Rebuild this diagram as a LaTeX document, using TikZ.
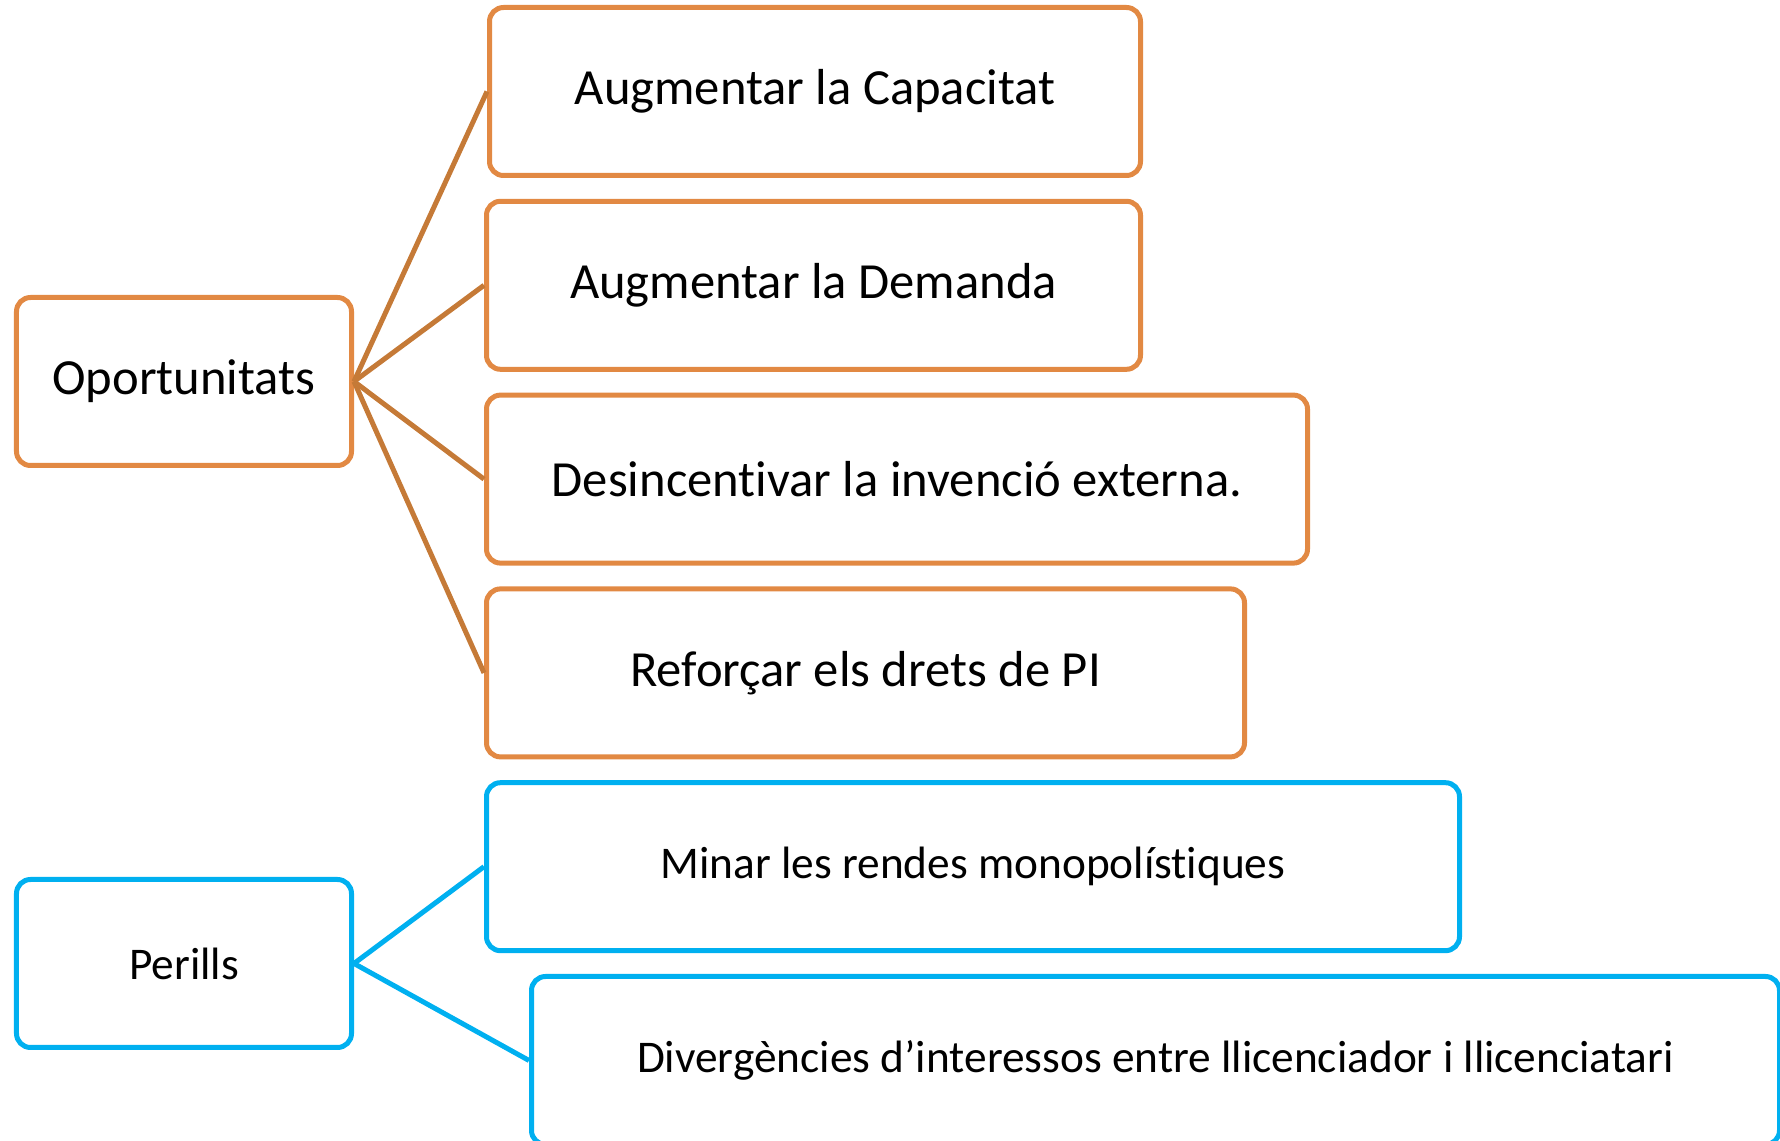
\documentclass[tikz,border=0pt]{standalone}
\usepackage{fontspec}
\setmainfont{Carlito}[Ligatures=NoCommon]
\usepackage{xcolor}
\usepackage{tikz}
\usetikzlibrary{positioning}

\definecolor{oranbox}{RGB}{226,137,67}
\definecolor{oranline}{RGB}{197,122,55}
\definecolor{skyline}{RGB}{0,176,240}

\begin{document}
\begin{tikzpicture}[
    node distance=0.208cm,
    every node/.style={align=center},
    oppbox/.style={draw=oranbox, line width=0.05cm, rounded corners=0.14cm,
        minimum height=1.68cm, font=\fontsize{14.4}{17}\selectfont},
    riskbox/.style={draw=skyline, line width=0.05cm, rounded corners=0.14cm,
        minimum height=1.68cm, font=\fontsize{12.9}{15}\selectfont},
    opplink/.style={draw=oranline, line width=0.05cm},
    risklink/.style={draw=skyline, line width=0.05cm}
]
\useasboundingbox (0,0) rectangle (17.8,-11.41);

% Opportunities
\node[
    oppbox,
    minimum width=3.35cm
] (opor) at (1.84,-3.815) {Oportunitats};

\node[
    oppbox,
    minimum width=6.51cm,
    anchor=north west
] (capac) at (4.87,-0.05) {Augmentar la Capacitat};

\node[
    oppbox,
    minimum width=6.54cm,
    below=of capac.south west,
    anchor=north west,
    xshift=-0.03cm
] (deman) {Augmentar la Demanda};

\node[
    oppbox,
    minimum width=8.21cm,
    below=of deman.south west,
    anchor=north west
] (desinc) {Desincentivar la invenció externa.};

\node[
    oppbox,
    minimum width=7.58cm,
    below=of desinc.south west,
    anchor=north west
] (reforc) {Reforçar els drets de PI};

% Dangers
\node[
    riskbox,
    minimum width=9.73cm,
    below=of reforc.south west,
    anchor=north west
] (minar) {Minar les rendes monopolístiques};

\node[
    riskbox,
    minimum width=12.48cm,
    below=of minar.south west,
    anchor=north west,
    xshift=0.45cm
] (diverg) {Divergències d’interessos entre llicenciador i llicenciatari};

\node[
    riskbox,
    minimum width=3.35cm,
    below=4.09cm of opor
] (perill) {Perills};

% Connections
\draw[opplink] (opor.east) -- (capac.west);
\draw[opplink] (opor.east) -- (deman.west);
\draw[opplink] (opor.east) -- (desinc.west);
\draw[opplink] (opor.east) -- (reforc.west);

\draw[risklink] (perill.east) -- (minar.west);
\draw[risklink] (perill.east) -- (diverg.west);

\end{tikzpicture}
\end{document}
